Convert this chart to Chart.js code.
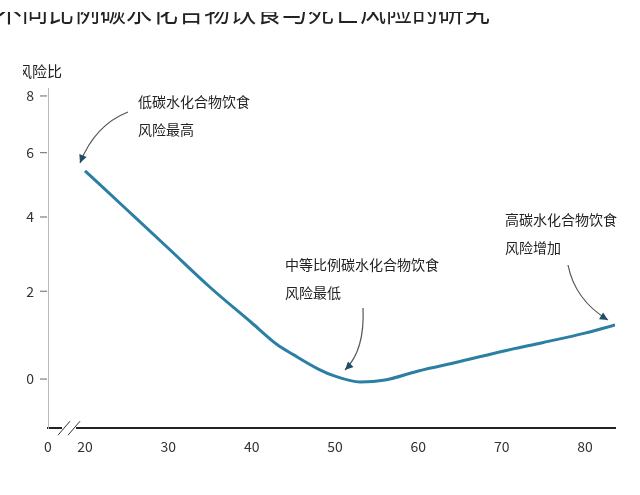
<!DOCTYPE html>
<html><head><meta charset="utf-8">
<script src="https://cdn.jsdelivr.net/npm/chart.js@4"></script>
<style>html,body{margin:0;padding:0;background:#fff}#w{width:640px;height:495px}</style>
</head><body><div id="w"><canvas id="c"></canvas></div>
<script>
const ages = [20,25,30,35,40,43,45,48,50,53,56,60,65,70,75,80,83.6];
const risk = [5.41,4.22,3.12,2.10,1.24,0.75,0.52,0.21,0.06,-0.06,-0.02,0.17,0.37,0.59,0.79,1.00,1.19];
const yTicks = [0,2,4,6,8];
const xTicks = [20,30,40,50,60,70,80];
const OFFSET = 10;
const X0 = 15.56;
const font = "'Noto Sans CJK SC','Noto Sans',sans-serif";

const deco = {
  id:'deco',
  afterDraw(ch){
    const c = ch.ctx, a = ch.chartArea;
    c.save();
    c.fillStyle='#222'; c.font='26px '+font; c.textBaseline='middle'; c.textAlign='left';
    c.fillText('不同比例碳水化合物饮食与死亡风险的研究', -4, 12);
    c.fillStyle='#fff'; c.fillRect(0,0,640,12);
    c.fillStyle='#222';
    c.font='15px '+font; c.textAlign='right';
    c.fillText('风险比', 62, 71);
    c.fillStyle='#fff'; c.fillRect(0,60,23,22);
    // axis break
    c.strokeStyle='#333'; c.lineWidth=1;
    c.fillStyle='#fff'; c.fillRect(62,a.bottom-3,14,6);
    c.beginPath(); c.moveTo(58,a.bottom+7); c.lineTo(70,a.bottom-7);
    c.moveTo(68,a.bottom+7); c.lineTo(80,a.bottom-7); c.stroke();
    // y tick marks
    c.strokeStyle='#666';
    yTicks.forEach(v=>{const y=ch.scales.y.getPixelForValue(v+OFFSET);c.beginPath();c.moveTo(40,y);c.lineTo(47,y);c.stroke();});
    // annotations
    c.font='14px '+font; c.textAlign='left'; c.fillStyle='#222';
    const T=(s,x,y)=>c.fillText(s,x,y);
    T('低碳水化合物饮食',138,102); T('风险最高',138,130);
    T('中等比例碳水化合物饮食',285,265); T('风险最低',285,293);
    T('高碳水化合物饮食',505,220); T('风险增加',505,248);
    const arrow=(x1,y1,cx,cy,x2,y2)=>{
      c.strokeStyle='#555'; c.lineWidth=1.2;
      c.beginPath(); c.moveTo(x1,y1); c.quadraticCurveTo(cx,cy,x2,y2); c.stroke();
      const ang=Math.atan2(y2-cy,x2-cx);
      c.fillStyle='#1f4e66';
      c.beginPath(); c.moveTo(x2,y2);
      c.lineTo(x2-9*Math.cos(ang-0.45),y2-9*Math.sin(ang-0.45));
      c.lineTo(x2-9*Math.cos(ang+0.45),y2-9*Math.sin(ang+0.45));
      c.closePath(); c.fill();
    };
    arrow(128,112,95,125,80,163);
    arrow(363,308,365,350,345,370);
    arrow(568,265,575,300,608,320);
    c.restore();
  }
};

new Chart(document.getElementById('c'),{
  type:'line',
  data:{datasets:[{data:ages.map((x,i)=>({x,y:risk[i]+OFFSET})),
    borderColor:'#2a7fa3',borderWidth:3,pointRadius:0,tension:0.4,cubicInterpolationMode:'monotone'}]},
  options:{
    responsive:true,maintainAspectRatio:false,animation:false,
    layout:{padding:{top:88,right:25,bottom:34,left:0}},
    plugins:{legend:{display:false},tooltip:{enabled:false}},
    scales:{
      x:{type:'linear',min:X0,max:83.6,
        afterBuildTicks(s){s.ticks=[X0,...xTicks].map(v=>({value:v}));},
        ticks:{callback:v=>v<19?'0':v,color:'#333',font:{size:14,family:font},padding:6},
        grid:{display:false,drawTicks:true,tickLength:4},
        border:{color:'#222',width:2}},
      y:{type:'logarithmic',min:9.03,max:18.3,
        afterBuildTicks(s){s.ticks=yTicks.map(v=>({value:v+OFFSET}));},
        afterFit(s){s.width=48;},
        ticks:{callback:v=>Math.round(v-OFFSET),color:'#333',font:{size:14,family:font},padding:14},
        grid:{display:false,drawTicks:false},
        border:{color:'#bbb',width:1}}
    }
  },
  plugins:[deco]
});
</script></body></html>
